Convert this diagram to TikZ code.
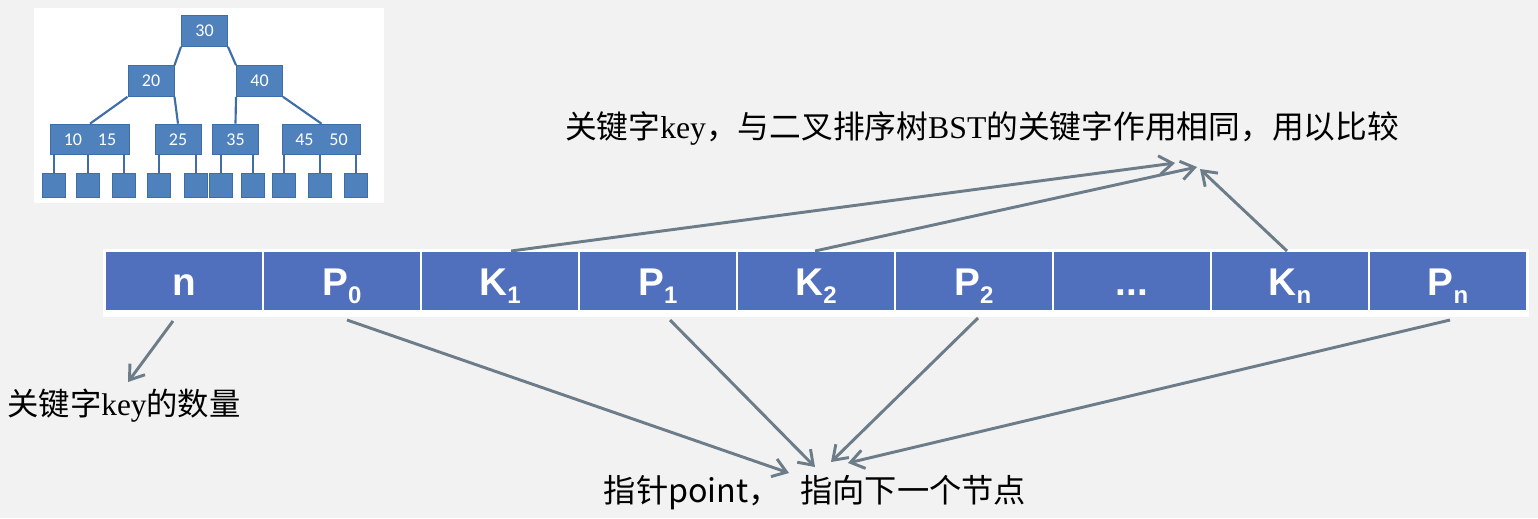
\documentclass[tikz,border=0pt]{standalone}
\usepackage{fontspec}
\usepackage{tikz}
\usetikzlibrary{arrows.meta,positioning,calc}

\newfontfamily\cjk{Noto Sans CJK SC}
\newfontfamily\latinserif{Liberation Serif}
\newfontfamily\cellfont{Liberation Sans}
\newfontfamily\treefont{Carlito}

\definecolor{pagegray}{HTML}{F2F2F2}
\definecolor{cellblue}{HTML}{5070BE}
\definecolor{treeblue}{HTML}{4F81BD}
\definecolor{treeline}{HTML}{3F6DA8}
\definecolor{arrowgray}{HTML}{6C7C88}

\newcommand{\cellsub}[1]{\raisebox{-6pt}{\fontsize{18}{18}\selectfont #1}}

\tikzset{
	cell/.style={rectangle, fill=cellblue, draw=white, line width=1.5pt,
		minimum width=118.5pt, minimum height=45pt, inner sep=0pt, outer sep=0pt,
		text=white, text height=24pt, text depth=3pt,
		font=\cellfont\bfseries\fontsize{29}{29}\selectfont},
	tnode/.style={rectangle, fill=treeblue, draw=treeline, line width=0.75pt,
		minimum width=34.5pt, minimum height=23pt, inner sep=0pt,
		text=white, font=\treefont\fontsize{13.5}{13.5}\selectfont},
	tleaf/.style={rectangle, fill=treeblue, draw=treeline, line width=0.75pt,
		minimum width=17pt, minimum height=17.5pt, inner sep=0pt},
	tedge/.style={draw=treeline, line width=1.6pt},
	ptr/.style={draw=arrowgray, line width=2.2pt, -{Straight Barb[length=10pt,width=14pt]}},
	note/.style={inner sep=0pt, text=black}
}

\begin{document}
\begin{tikzpicture}[x=0.75pt,y=-0.75pt]
	\useasboundingbox[fill=pagegray] (0,0) rectangle (1538,518);

	% small B-tree
	\fill[white] (34,8) rectangle (384,203);
	\node[tnode] (t30) at (204.5,31) {30};
	\node[tnode] (t20) at (151,81) {20};
	\node[tnode] (t40) at (259.5,81) {40};
	\node[tnode, minimum width=59pt] (t1015) at (90,139.5) {10\hspace{12pt}15};
	\node[tnode] (t25) at (178,139.5) {25};
	\node[tnode] (t35) at (235.5,139.5) {35};
	\node[tnode, minimum width=59pt] (t4550) at (321.5,139.5) {45\hspace{12pt}50};

	\draw[tedge] (t30.south west) -- (t20.north east);
	\draw[tedge] (t30.south east) -- (t40.north west);
	\draw[tedge] (t20.south west) -- (t1015.north);
	\draw[tedge] (t20.south east) -- (t25.north);
	\draw[tedge] (t40.south west) -- (t35.north);
	\draw[tedge] (t40.south east) -- (t4550.north);

	\node[tleaf] (leaf1) at (54,185.5) {};
	\node[tleaf] (leaf2) at (88,185.5) {};
	\node[tleaf] (leaf3) at (124,185.5) {};
	\node[tleaf] (leaf4) at (159,185.5) {};
	\node[tleaf] (leaf5) at (196,185.5) {};
	\node[tleaf] (leaf6) at (221,185.5) {};
	\node[tleaf] (leaf7) at (253,185.5) {};
	\node[tleaf] (leaf8) at (284,185.5) {};
	\node[tleaf] (leaf9) at (320,185.5) {};
	\node[tleaf] (leaf10) at (356,185.5) {};

	\draw[tedge] (leaf1.north) -- (leaf1.north |- t1015.south);
	\draw[tedge] (leaf2.north) -- (leaf2.north |- t1015.south);
	\draw[tedge] (leaf3.north) -- (leaf3.north |- t1015.south);
	\draw[tedge] (leaf4.north) -- (leaf4.north |- t25.south);
	\draw[tedge] (leaf5.north) -- (leaf5.north |- t25.south);
	\draw[tedge] (leaf6.north) -- (leaf6.north |- t35.south);
	\draw[tedge] (leaf7.north) -- (leaf7.north |- t35.south);
	\draw[tedge] (leaf8.north) -- (leaf8.north |- t4550.south);
	\draw[tedge] (leaf9.north) -- (leaf9.north |- t4550.south);
	\draw[tedge] (leaf10.north) -- (leaf10.north |- t4550.south);

	% node layout
	\fill[white] (103,249) rectangle (1529,317);
	\node[cell] (n) at (184,281) {n};
	\node[cell, right=0pt of n] (P0) {P\cellsub{0}};
	\node[cell, right=0pt of P0] (K1) {K\cellsub{1}};
	\node[cell, right=0pt of K1] (P1) {P\cellsub{1}};
	\node[cell, right=0pt of P1] (K2) {K\cellsub{2}};
	\node[cell, right=0pt of K2] (P2) {P\cellsub{2}};
	\node[cell, right=0pt of P2] (dots) {...};
	\node[cell, right=0pt of dots] (Kn) {K\cellsub{n}};
	\node[cell, right=0pt of Kn] (Pn) {P\cellsub{n}};

	% notes
	\node[note, font=\fontsize{23.8}{28}\selectfont] (keynote) at (982,128)
		{{\cjk 关键字}{\latinserif key}{\cjk ，与二叉排序树}{\latinserif BST}{\cjk 的关键字作用相同，用以比较}};
	\node[note, font=\fontsize{23.5}{27}\selectfont] (countnote) at (124,406)
		{{\cjk 关键字}{\latinserif key}{\cjk 的数量}};
	\node[note, font=\cjk\fontsize{24.2}{28}\selectfont] (ptrnote) at (815,493)
		{指针point，\hspace{0.6em}指向下一个节点};

	\coordinate (keytip1) at (1175,163);
	\coordinate (keytip2) at (1197,167);
	\coordinate (keytip3) at (1200,169);
	\coordinate (counttip) at (128,382);
	\coordinate (ptrtip0) at (789,473);
	\coordinate (ptrtip1) at (815,467);
	\coordinate (ptrtip2) at (831,462);
	\coordinate (ptrtip3) at (848,463);

	\draw[ptr] ($(K1.north)+(11,0)$) -- (keytip1);
	\draw[ptr] ($(K2.north)+(-1,0)$) -- (keytip2);
	\draw[ptr] ($(Kn.north)+(-3,0)$) -- (keytip3);

	\draw[ptr] ($(n.south)+(-11,10)$) -- (counttip);
	\draw[ptr] ($(P0.south)+(5,9)$) -- (ptrtip0);
	\draw[ptr] ($(P1.south)+(12,9)$) -- (ptrtip1);
	\draw[ptr] ($(P2.south)+(4,7)$) -- (ptrtip2);
	\draw[ptr] ($(Pn.south)+(2,9)$) -- (ptrtip3);

\end{tikzpicture}
\end{document}
